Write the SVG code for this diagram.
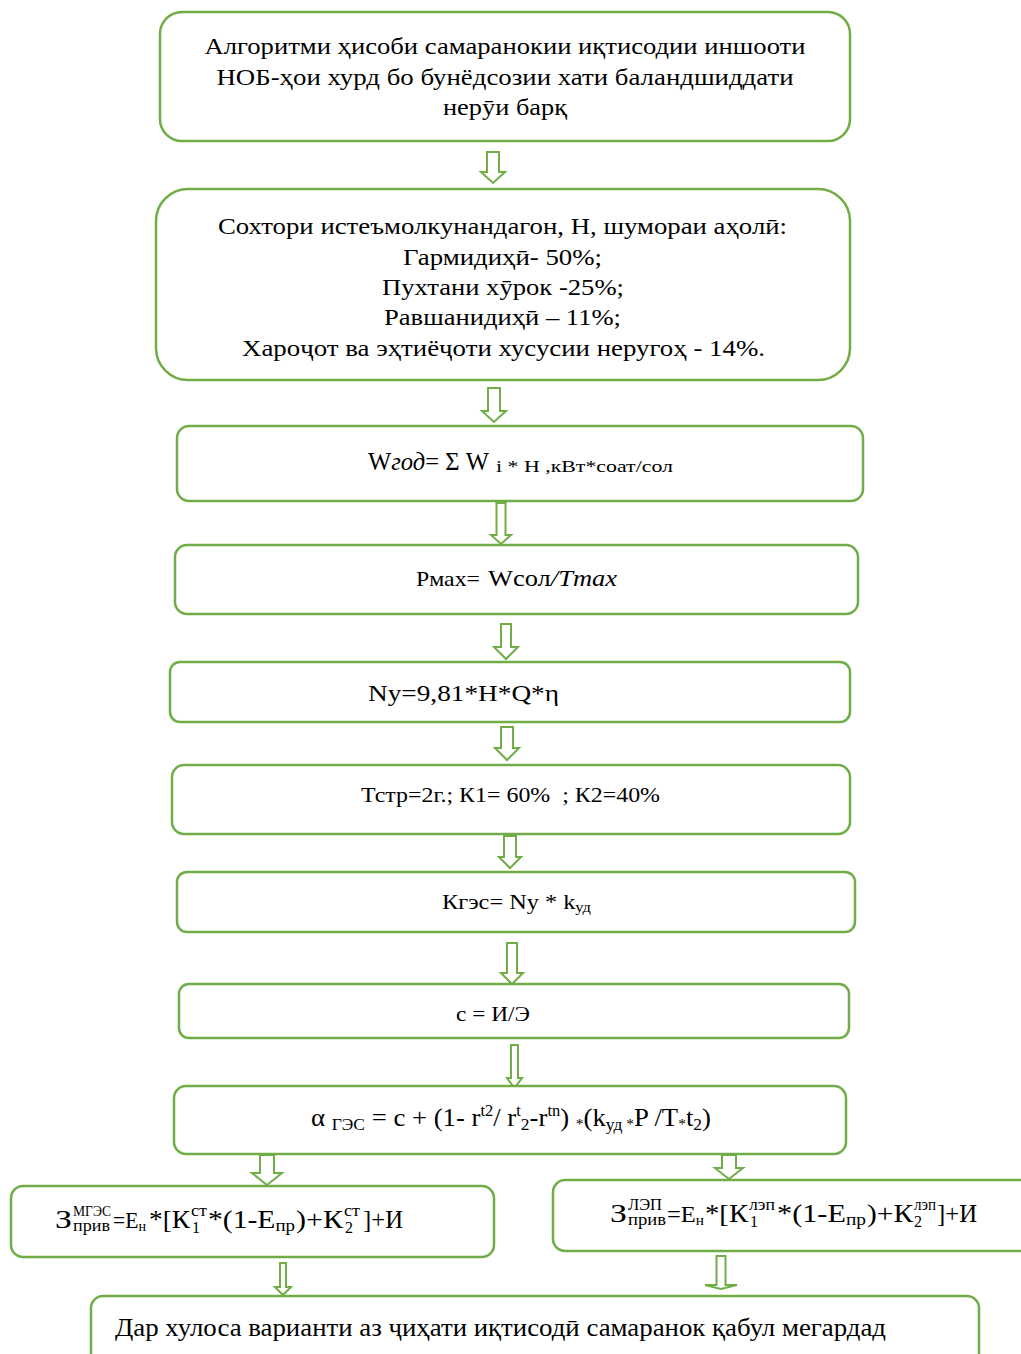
<svg xmlns="http://www.w3.org/2000/svg" width="1021" height="1354" viewBox="0 0 1021 1354">
<style>
.box{fill:#ffffff;stroke:#70AD47;stroke-width:2.5}
.arr{fill:#ffffff;stroke:#70AD47;stroke-width:2;stroke-linejoin:miter}
text{font-family:"Liberation Serif","Times New Roman",serif;fill:#000000}
.c{text-anchor:middle;font-size:23px}
.m{font-size:25px}
.s{font-size:16px}
</style>
<rect width="1021" height="1354" fill="#ffffff"/>
<g id="connectors">
<path class="arr" d="M487,152 H499 V172 H505 L493,183 L481,172 H487 Z"/>
<path class="arr" d="M488,388 H500 V411 H506 L494,422 L482,411 H488 Z"/>
<path class="arr" d="M496.5,503 H505.5 V535 H511 L501,544 L491,535 H496.5 Z"/>
<path class="arr" d="M501,624 H511 V647 H518 L506,659 L494,647 H501 Z"/>
<path class="arr" d="M501,727 H513 V748 H519 L507,760 L495,748 H501 Z"/>
<path class="arr" d="M504,836 H516 V857 H521 L510,868 L499,857 H504 Z"/>
<path class="arr" d="M507,943 H517 V973 H523 L512,984 L501,973 H507 Z"/>
<path class="arr" d="M511,1045 H518 V1078 H522 L514.5,1088 L507,1078 H511 Z"/>
<path class="arr" d="M260,1155 H274 V1173 H282 L267,1185 L252,1173 H260 Z"/>
<path class="arr" d="M280,1263 H286 V1287 H291 L283,1295 L275,1287 H280 Z"/>
<path class="arr" d="M722,1155 H736 V1168 H743 L729,1179 L715,1168 H722 Z"/>
<path class="arr" d="M716.5,1256 H725.5 V1285 H737 L721,1289 L705,1285 H716.5 Z"/>
</g>
<g id="n1">
<rect class="box" x="160" y="12" width="690" height="129" rx="22"/>
<text class="c" x="505" y="54" textLength="601" lengthAdjust="spacingAndGlyphs">Алгоритми ҳисоби самаранокии иқтисодии иншооти</text>
<text class="c" x="505" y="85" textLength="577" lengthAdjust="spacingAndGlyphs">НОБ-ҳои хурд бо бунёдсозии хати баландшиддати</text>
<text class="c" x="505" y="115" textLength="124" lengthAdjust="spacingAndGlyphs">нерӯи барқ</text>
</g>
<g id="n2">
<rect class="box" x="156" y="189" width="694" height="191" rx="32"/>
<text class="c" x="502.5" y="234" textLength="569" lengthAdjust="spacingAndGlyphs">Сохтори истеъмолкунандагон, Н, шумораи аҳолӣ:</text>
<text class="c" x="502.5" y="265" textLength="199" lengthAdjust="spacingAndGlyphs">Гармидиҳӣ- 50%;</text>
<text class="c" x="503" y="295" textLength="242" lengthAdjust="spacingAndGlyphs">Пухтани хӯрок -25%;</text>
<text class="c" x="502.5" y="325" textLength="237" lengthAdjust="spacingAndGlyphs">Равшанидиҳӣ – 11%;</text>
<text class="c" x="503.5" y="356" textLength="523" lengthAdjust="spacingAndGlyphs">Хароҷот ва эҳтиёҷоти хусусии неругоҳ - 14%.</text>
</g>
<g id="n3">
<rect class="box" x="177" y="426" width="686" height="75" rx="12"/>
<text x="368" y="470" font-size="25" textLength="121" lengthAdjust="spacingAndGlyphs">W<tspan font-style="italic">год</tspan>= Σ W</text>
<text x="496" y="472" font-size="17" textLength="177" lengthAdjust="spacingAndGlyphs">i * Н ,кВт*соат/сол</text>
</g>
<g id="n4">
<rect class="box" x="175" y="545" width="683" height="69" rx="12"/>
<text x="416" y="586" font-size="21" textLength="64" lengthAdjust="spacingAndGlyphs">Рмах=</text>
<text x="488" y="586" font-size="24" textLength="129" lengthAdjust="spacingAndGlyphs">Wсол<tspan font-style="italic">/Tmax</tspan></text>
</g>
<g id="n5">
<rect class="box" x="170" y="662" width="680" height="60" rx="10"/>
<text x="368" y="701" font-size="24" textLength="191" lengthAdjust="spacingAndGlyphs">Nу=9,81*H*Q*η</text>
</g>
<g id="n6">
<rect class="box" x="172" y="765" width="678" height="69" rx="12"/>
<text x="361" y="802" font-size="22" textLength="299" lengthAdjust="spacingAndGlyphs" xml:space="preserve">Тстр=2г.; К1= 60%  ; К2=40%</text>
</g>
<g id="n7">
<rect class="box" x="177" y="872" width="678" height="60" rx="10"/>
<text x="442" y="909" font-size="22" textLength="149" lengthAdjust="spacingAndGlyphs">Кгэс= Nу * k<tspan font-size="15" dy="3">уд</tspan></text>
</g>
<g id="n8">
<rect class="box" x="179" y="984" width="670" height="54" rx="10"/>
<text x="456" y="1021" font-size="22" textLength="74" lengthAdjust="spacingAndGlyphs">с = И/Э</text>
</g>
<g id="n9">
<rect class="box" x="174" y="1086" width="672" height="68" rx="12"/>
<text x="311" y="1126" font-size="26" textLength="400" lengthAdjust="spacingAndGlyphs">α <tspan font-size="17" dy="4">ГЭС</tspan><tspan dy="-4"> = с + (1- r</tspan><tspan font-size="16" dy="-10">t2</tspan><tspan dy="10">/ r</tspan><tspan font-size="16" dy="-10">t</tspan><tspan font-size="17" dy="14">2</tspan><tspan dy="-4">-r</tspan><tspan font-size="16" dy="-10">tn</tspan><tspan dy="10">) </tspan><tspan font-size="15" dy="3">*</tspan><tspan dy="-3">(k</tspan><tspan font-size="17" dy="4">уд</tspan><tspan font-size="15" dy="-1"> *</tspan><tspan dy="-3">P /T</tspan><tspan font-size="15" dy="3">*</tspan><tspan dy="-3">t</tspan><tspan font-size="17" dy="4">2</tspan><tspan dy="-4">)</tspan></text>
</g>
<g id="n10">
<rect class="box" x="11" y="1186" width="483" height="71" rx="12"/>
<text class="m" x="55" y="1228" textLength="17" lengthAdjust="spacingAndGlyphs">З</text>
<text x="73" y="1216" font-size="14" textLength="38" lengthAdjust="spacingAndGlyphs">МГЭС</text>
<text class="s" x="73" y="1231" textLength="37" lengthAdjust="spacingAndGlyphs">прив</text>
<text x="113" y="1228" font-size="23" textLength="33" lengthAdjust="spacingAndGlyphs">=Е<tspan font-size="15" dy="3">н</tspan></text>
<text class="m" x="149" y="1228" textLength="41" lengthAdjust="spacingAndGlyphs">*[К</text>
<text class="s" x="191" y="1216" textLength="16" lengthAdjust="spacingAndGlyphs">ст</text>
<text class="s" x="192" y="1233">1</text>
<text class="m" x="208" y="1228" textLength="87" lengthAdjust="spacingAndGlyphs">*(1-Е<tspan font-size="16" dy="3">пр</tspan></text>
<text class="m" x="296" y="1228" textLength="47" lengthAdjust="spacingAndGlyphs">)+К</text>
<text class="s" x="344" y="1216" textLength="16" lengthAdjust="spacingAndGlyphs">ст</text>
<text class="s" x="345" y="1233">2</text>
<text class="m" x="363" y="1228" textLength="40" lengthAdjust="spacingAndGlyphs">]+И</text>
</g>
<g id="n11">
<rect class="box" x="553" y="1180" width="480" height="71" rx="12"/>
<text class="m" x="610" y="1222" textLength="17" lengthAdjust="spacingAndGlyphs">З</text>
<text class="s" x="628" y="1210" textLength="34" lengthAdjust="spacingAndGlyphs">ЛЭП</text>
<text class="s" x="628" y="1225" textLength="38" lengthAdjust="spacingAndGlyphs">прив</text>
<text x="667" y="1222" font-size="24" textLength="37" lengthAdjust="spacingAndGlyphs">=Е<tspan font-size="15" dy="3">н</tspan></text>
<text class="m" x="705" y="1222" textLength="43" lengthAdjust="spacingAndGlyphs">*[К</text>
<text class="s" x="749" y="1210" textLength="26" lengthAdjust="spacingAndGlyphs">лэп</text>
<text class="s" x="750" y="1227">1</text>
<text class="m" x="777" y="1222" textLength="89" lengthAdjust="spacingAndGlyphs">*(1-Е<tspan font-size="16" dy="3">пр</tspan></text>
<text class="m" x="867" y="1222" textLength="46" lengthAdjust="spacingAndGlyphs">)+К</text>
<text class="s" x="914" y="1210" textLength="22" lengthAdjust="spacingAndGlyphs">лэп</text>
<text class="s" x="914" y="1227">2</text>
<text class="m" x="937" y="1222" textLength="40" lengthAdjust="spacingAndGlyphs">]+И</text>
</g>
<g id="n12">
<rect class="box" x="91" y="1296" width="888" height="80" rx="12"/>
<text x="115" y="1336" font-size="25" textLength="771" lengthAdjust="spacingAndGlyphs">Дар хулоса варианти аз ҷиҳати иқтисодӣ самаранок қабул мегардад</text>
</g>
</svg>
